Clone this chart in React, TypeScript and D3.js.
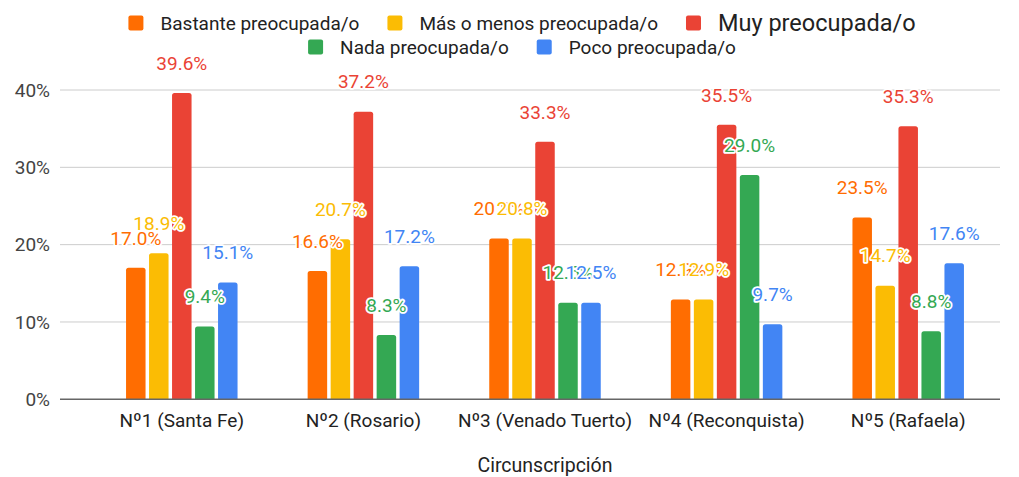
import React, { useMemo } from "react";
import * as d3 from "d3";

const categories = ["Nº1 (Santa Fe)", "Nº2 (Rosario)", "Nº3 (Venado Tuerto)", "Nº4 (Reconquista)", "Nº5 (Rafaela)"];
const seriesNames = ["Bastante preocupada/o", "Más o menos preocupada/o", "Muy preocupada/o", "Nada preocupada/o", "Poco preocupada/o"];
const bastante = [17.0, 16.6, 20.8, 12.9, 23.5];
const masMenos = [18.9, 20.7, 20.8, 12.9, 14.7];
const muy = [39.6, 37.2, 33.3, 35.5, 35.3];
const nada = [9.4, 8.3, 12.5, 29.0, 8.8];
const poco = [15.1, 17.2, 12.5, 9.7, 17.6];
const yTicks = [0, 10, 20, 30, 40];
const colors = ["#ff6d01", "#fbbc04", "#ea4335", "#34a853", "#4285f4"];
const xTitle = "Circunscripción";

const W = 1019;
const H = 477;
const FONT = "Roboto, 'Noto Sans', sans-serif";

function measure(text: string, size: number) {
  const c = document.createElement("canvas").getContext("2d")!;
  c.font = `${size}px Roboto`;
  return c.measureText(text).width;
}

function topRoundedRect(x: number, y: number, w: number, h: number, r: number) {
  const rr = Math.min(r, h, w / 2);
  return `M${x},${y + h}V${y + rr}Q${x},${y} ${x + rr},${y}H${x + w - rr}Q${x + w},${y} ${x + w},${y + rr}V${y + h}Z`;
}

export default function App() {
  const values = [bastante, masMenos, muy, nada, poco];
  const x0 = d3.scaleBand<string>().domain(categories).range([91, 999]).padding(0);
  const x1 = d3.scaleBand<string>().domain(seriesNames).range([-55.75, 55.75]).paddingInner(0.152).paddingOuter(0);
  const y = d3.scaleLinear().domain([0, 40]).range([399.3, 90]);
  const gridLeft = 60;
  const gridRight = 1000;

  const legend = useMemo(() => {
    const rows = [
      { items: [0, 1, 2], center: 522, cy: 23 },
      { items: [3, 4], center: 522, cy: 47 },
    ];
    const sq = 15;
    const textOff = 32;
    const out: { i: number; x: number; cy: number; size: number; sq: number; textOff: number }[] = [];
    rows.forEach((row) => {
      const parts = row.items.map((i) => {
        const size = i === 2 ? 23.5 : 19;
        return { i, size, w: textOff + measure(seriesNames[i], size) };
      });
      const gap = 28;
      const total = parts.reduce((s, p) => s + p.w, 0) + gap * (parts.length - 1);
      let cx = row.center - total / 2;
      parts.forEach((p) => {
        out.push({ i: p.i, x: cx, cy: row.cy, size: p.size, sq, textOff });
        cx += p.w + gap;
      });
    });
    return out;
  }, []);

  return (
    <svg width={W} height={H} style={{ position: "absolute", left: 0, top: 0, background: "#fff" }} fontFamily={FONT}>
      {/* legend */}
      {legend.map((l) => (
        <g key={l.i}>
          <rect x={l.x} y={l.cy - l.sq / 2} width={l.sq} height={l.sq} rx={2} fill={colors[l.i]} />
          <text x={l.x + l.textOff} y={l.cy} dy="0.36em" fontSize={l.size} fill="#222">
            {seriesNames[l.i]}
          </text>
        </g>
      ))}
      {/* grid */}
      {yTicks.map((t) => (
        <g key={t}>
          {t !== 0 && <line x1={gridLeft} x2={gridRight} y1={y(t)} y2={y(t)} stroke="#cccccc" strokeWidth={1} />}
          <text x={50} y={y(t)} dy="0.36em" textAnchor="end" fontSize={19} fill="#444">
            {t}%
          </text>
        </g>
      ))}
      {/* bars */}
      {categories.map((c, ci) => (
        <g key={c} transform={`translate(${x0(c)! + x0.bandwidth() / 2},0)`}>
          {seriesNames.map((s, si) => {
            const v = values[si][ci];
            const top = y(v);
            return (
              <path key={s} d={topRoundedRect(x1(s)!, top, x1.bandwidth(), y(0) - top, 2.5)} fill={colors[si]} />
            );
          })}
        </g>
      ))}
      {/* baseline */}
      <line x1={gridLeft} x2={gridRight} y1={y(0)} y2={y(0)} stroke="#666" strokeWidth={1.6} />
      {/* data labels */}
      {categories.map((c, ci) => (
        <g key={c} transform={`translate(${x0(c)! + x0.bandwidth() / 2},0)`}>
          {seriesNames.map((s, si) => {
            const v = values[si][ci];
            return (
              <text
                key={s}
                x={x1(s)! + x1.bandwidth() / 2}
                y={y(v) - 30}
                dy="0.36em"
                textAnchor="middle"
                fontSize={19}
                fill={colors[si]}
                stroke="#fff"
                strokeWidth={3.5}
                strokeLinejoin="round"
                paintOrder="stroke"
              >
                {v.toFixed(1)}%
              </text>
            );
          })}
        </g>
      ))}
      {/* category labels */}
      {categories.map((c) => (
        <text key={c} x={x0(c)! + x0.bandwidth() / 2} y={420} dy="0.36em" textAnchor="middle" fontSize={19} fill="#222">
          {c}
        </text>
      ))}
      <text x={545} y={465} dy="0.36em" textAnchor="middle" fontSize={19.5} fill="#222">
        {xTitle}
      </text>
    </svg>
  );
}
